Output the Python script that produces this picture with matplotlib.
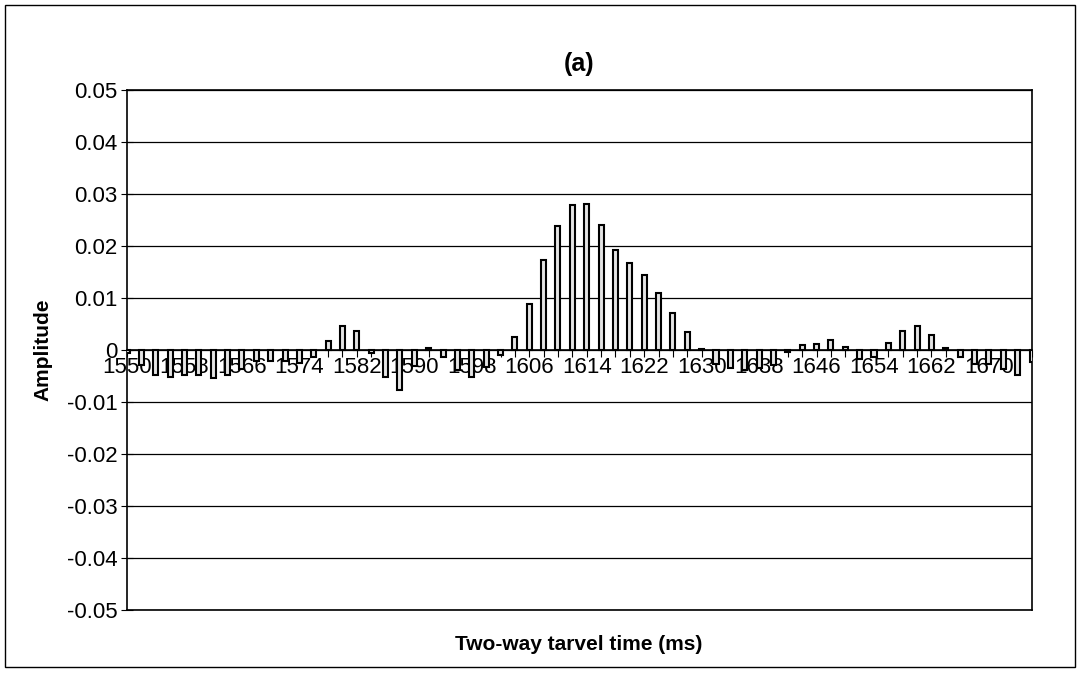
import matplotlib.pyplot as plt
import numpy as np
from matplotlib.patches import Rectangle

plt.rcParams['font.family'] = ['Liberation Sans', 'DejaVu Sans']

# Data: two-way time (ms) and amplitude
times = list(range(1550, 1678, 2))
amplitude = [
    -0.0005, -0.0029, -0.0049, -0.0052, -0.0049, -0.0049, -0.0054, -0.0049,
    -0.0036, -0.0022, -0.0022, -0.0022, -0.0025, -0.0014, 0.0018, 0.0047,
    0.0036, -0.0005, -0.0052, -0.0077, -0.0030, 0.0003, -0.0013, -0.0038,
    -0.0052, -0.0033, -0.0010, 0.0025, 0.0088, 0.0174, 0.0239, 0.0278,
    0.0281, 0.0241, 0.0193, 0.0167, 0.0144, 0.0110, 0.0072, 0.0035,
    0.0002, -0.0027, -0.0035, -0.0038, -0.0035, -0.0028, -0.0003, 0.0010,
    0.0012, 0.0020, 0.0005, -0.0017, -0.0014, 0.0014, 0.0037, 0.0047,
    0.0028, 0.0004, -0.0013, -0.0027, -0.0027, -0.0036, -0.0049, -0.0024,
]
y_ticks = [-0.05, -0.04, -0.03, -0.02, -0.01, 0, 0.01, 0.02, 0.03, 0.04, 0.05]
y_labels = ['-0.05', '-0.04', '-0.03', '-0.02', '-0.01', '0',
            '0.01', '0.02', '0.03', '0.04', '0.05']

fig = plt.figure(figsize=(10.81, 6.73), dpi=100)
ax = fig.add_axes([0.1175, 0.0936, 0.8372, 0.7727])

# outer chart border
fig.patches.append(Rectangle((5 / 1081, 6 / 673), 1070 / 1081, 662 / 673,
                             transform=fig.transFigure, fill=False,
                             edgecolor='black', linewidth=1.0))

ax.bar(times, amplitude, width=0.7, color='#e4e4e4', edgecolor='black',
       linewidth=1.5, zorder=3)

ax.set_xlim(times[0], times[-1])
ax.set_ylim(-0.05, 0.05)
ax.set_yticks(y_ticks)
ax.set_yticklabels(y_labels, fontsize=16)
ax.yaxis.grid(True, color='black', linewidth=0.9, zorder=0)

# category axis crossing at zero
ax.spines['bottom'].set_position(('data', 0))
ax.spines['bottom'].set_zorder(4)
ax.axhline(-0.05, color='black', linewidth=1.2, clip_on=False)
for s in ['left', 'right', 'top', 'bottom']:
    ax.spines[s].set_linewidth(1.2)

ax.set_xticks(times)
ax.set_xticklabels([str(t) if i % 4 == 0 else '' for i, t in enumerate(times)],
                   fontsize=16)
ax.tick_params(axis='x', direction='out', length=5, width=0.8, pad=0)
ax.tick_params(axis='y', direction='inout', length=8, width=0.8, pad=3)

ax.set_title('(a)', fontsize=18, fontweight='bold', pad=14)
ax.set_ylabel('Amplitude', fontsize=15, fontweight='bold', labelpad=10)
fig.text(0.5357, 1 - 645 / 673, 'Two-way tarvel time (ms)', fontsize=15,
         fontweight='bold', ha='center', va='center')

fig.savefig('out.png', dpi=100)
